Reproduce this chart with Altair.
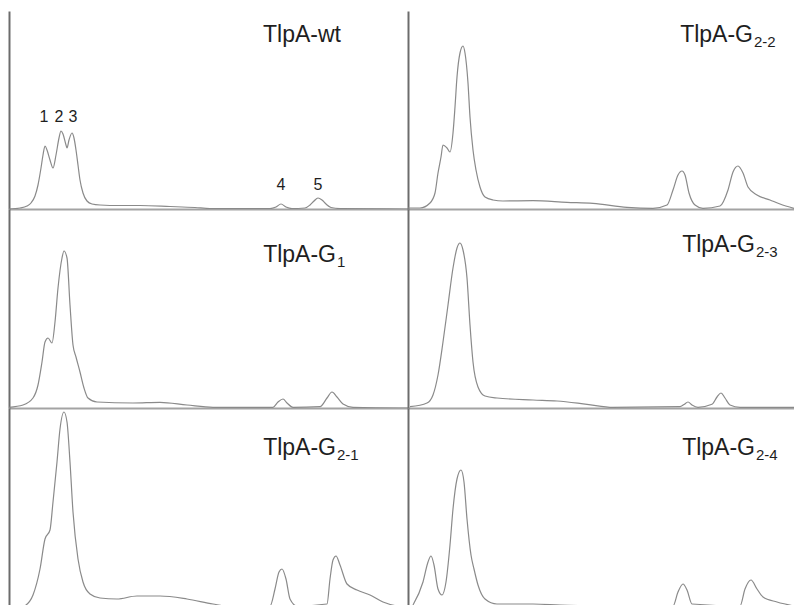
import altair as alt
import pandas as pd

# ---------------- data (retention time in min, absorbance in mAU) ----------------
# TlpA-wt
wt_t = [0, 1.1, 1.8, 2.2, 2.6, 2.9, 3.2, 3.4, 3.6, 3.8, 4.1, 4.4, 4.7, 5.0, 5.2, 5.4, 5.7, 5.8,
        6.0, 6.3, 6.5, 6.7, 6.9, 7.1, 7.4, 7.8, 8.3, 9.1, 11.1, 13.1, 16.1, 18.6, 20.1, 26.1,
        26.7, 27.2, 27.7, 28.3, 29.6, 30.1, 30.5, 30.9, 31.3, 31.7, 32.2, 33.1, 39.9]
wt_a = [0, 0.5, 1.5, 3, 6.5, 12, 20.5, 27, 31.5, 29.5, 24.5, 20.5, 27, 35.5, 39, 37.5, 32, 30.5,
        34.5, 38, 35.5, 29.5, 22, 14.5, 8, 4, 2.5, 2, 1.75, 1.75, 1.25, 0.75, 0.25, 0.25,
        1, 2.5, 1, 0.25, 0.5, 2, 4, 5.5, 4.5, 2.5, 0.75, 0.25, 0]

# TlpA-G2-2
g22_t = [0, 1.2, 2.2, 2.7, 3.0, 3.3, 3.5, 3.9, 4.2, 4.5, 4.7, 4.9, 5.2, 5.5, 5.7, 6.0, 6.2, 6.5,
         6.8, 7.2, 7.7, 8.5, 9.5, 12.5, 15.9, 18.5, 21.9, 24.5, 25.9, 26.5, 27.0, 27.4, 27.7,
         28.1, 28.7, 29.5, 31.2, 32.0, 32.5, 33.0, 33.5, 34.0, 34.9, 36.2, 37.2, 38.6]
g22_a = [0.5, 0.5, 3, 8, 18, 26, 32, 30.5, 28.5, 38, 51, 66, 78, 81.5, 78, 63, 46, 29.5,
         19.5, 11, 6, 4.5, 4, 4.15, 3.35, 2.85, 0.85, 0.35, 2, 9.5, 17, 19, 17,
         8, 2, 0.35, 1.5, 9.5, 18.5, 21.5, 18, 11, 7, 4.5, 2.5, 0.35]

# TlpA-G1
g1_t = [0, 1.4, 2.4, 2.9, 3.3, 3.6, 3.9, 4.3, 4.6, 4.9, 5.3, 5.5, 5.8, 6.1, 6.4, 6.7, 7.1, 7.5,
        7.9, 8.8, 12.4, 15.1, 17.8, 20.4, 26.4, 26.9, 27.4, 27.8, 28.4, 31.1, 31.8, 32.3, 32.8,
        33.4, 34.4, 39.9]
g1_a = [0.35, 1.5, 5, 11.5, 23, 33, 35, 32.5, 43, 60, 75, 78.5, 75, 51.5, 31.5, 25.5, 18, 10,
        5, 3, 2.5, 2.85, 1.5, 0.35, 0.35, 3, 4.5, 2.5, 0.35, 0.65, 5, 8, 5.5,
        2, 0.35, 0]

# TlpA-G2-3
g23_t = [0.2, 1.9, 2.5, 3.0, 3.5, 4.0, 4.5, 4.9, 5.2, 5.5, 5.9, 6.2, 6.5, 7.0, 7.7, 8.9, 12.5,
         14.9, 17.9, 20.5, 27.2, 27.6, 28.0, 28.4, 29.0, 30.4, 30.9, 31.3, 31.7, 32.2, 33.2, 38.6]
g23_a = [0.65, 2.5, 6.5, 16.5, 33, 51.5, 70, 80, 82.5, 79, 65, 41.5, 23, 10.5, 6, 5, 4,
         3.5, 1.85, 0.35, 0.65, 1.75, 3, 1.5, 0.35, 1.85, 5.5, 7.5, 5, 1.5, 0.35, 0.35]

# TlpA-G2-1
g21_t = [1.1, 1.6, 2.4, 3.1, 3.6, 4.1, 4.4, 4.8, 5.1, 5.5, 5.8, 6.1, 6.4, 6.9, 7.4, 8.1, 9.1,
         10.8, 12.8, 15.1, 17.8, 20.4, 21.8, 26.1, 26.6, 27.0, 27.3, 27.7, 28.1, 28.8, 31.8,
         32.1, 32.4, 32.7, 33.1, 33.8, 34.8, 36.1, 37.4, 38.8, 39.9]
g21_a = [0, 1, 6.5, 19.5, 34.5, 39, 53, 73, 89.5, 98, 93, 73, 48, 24.5, 13, 7, 5,
         4.5, 6, 6, 4.5, 2, 1, 1, 9.5, 18, 19.5, 14.5, 4.5, 1, 2,
         14.5, 24, 26, 21.5, 12, 9, 6.5, 3, 1, 0.5]

# TlpA-G2-4
g24_t = [0.5, 1.5, 2.0, 2.3, 2.6, 3.0, 3.4, 3.8, 4.2, 4.5, 4.9, 5.3, 5.6, 5.9, 6.3, 6.6, 7.0,
         7.7, 8.9, 12.5, 15.2, 19.2, 26.5, 27.0, 27.5, 27.9, 28.4, 33.2, 33.7, 34.3, 34.9,
         35.5, 36.9, 38.6]
g24_a = [1.5, 13, 23, 26, 21.5, 9.5, 6.5, 13, 31.5, 49.5, 64.5, 69, 63, 44.5, 26.5, 19.5, 11.5,
         4.5, 2, 2, 1.5, 1, 1, 8, 12, 9, 2, 1, 9.5, 14, 9.5,
         5.5, 3, 1]

# panel labels: main text, subscript, anchor (t, a), subscript baseline a
lab_main = ["TlpA-wt", "TlpA-G", "TlpA-G", "TlpA-G", "TlpA-G", "TlpA-G"]
lab_sub = ["", "2-2", "1", "2-3", "2-1", "2-4"]
lab_t = [25.4, 34.5, 32.7, 34.7, 32.7, 34.7]
lab_a = [83.5, 83.5, 73, 78, 76.5, 76.5]
lab_sub_a = [0, 81, 70.5, 75.5, 74, 74]

# peak numbers in TlpA-wt
pk_text = ["1", "2", "3", "4", "5"]
pk_t = [3.5, 5.0, 6.4, 27.2, 30.9]
pk_a = [43.5, 43.5, 43.5, 9.5, 9.5]

LINE = "#8a8a8a"
FONT = "Liberation Sans"
TXT = "#1e1e1e"


def panel(i, t, a, xmax, w, h):
    ymax = h / 2
    xs = alt.Scale(domain=[0, xmax], nice=False, zero=False)
    ys = alt.Scale(domain=[0, ymax], nice=False, zero=False)
    xax = alt.Axis(title=None, labels=False, ticks=False, grid=False,
                   domainColor="#a3a3a3", domainWidth=2)
    yax = alt.Axis(title=None, labels=False, ticks=False, grid=False,
                   domainColor="#6c6c6c", domainWidth=2)
    df = pd.DataFrame({"t": t, "a": a})
    line = alt.Chart(df).mark_line(color=LINE, strokeWidth=1.2,
                                   interpolate="monotone", clip=True).encode(
        x=alt.X("t:Q", scale=xs, axis=xax),
        y=alt.Y("a:Q", scale=ys, axis=yax),
    )
    layers = [line]
    has_sub = lab_sub[i] != ""
    mdf = pd.DataFrame({"t": [lab_t[i]], "a": [lab_a[i]], "txt": [lab_main[i]]})
    layers.append(
        alt.Chart(mdf).mark_text(font=FONT, fontSize=23, color=TXT,
                                 align="right" if has_sub else "left",
                                 baseline="alphabetic").encode(
            x=alt.X("t:Q", scale=xs, axis=xax),
            y=alt.Y("a:Q", scale=ys, axis=yax),
            text="txt:N")
    )
    if has_sub:
        sdf = pd.DataFrame({"t": [lab_t[i]], "a": [lab_sub_a[i]], "txt": [lab_sub[i]]})
        layers.append(
            alt.Chart(sdf).mark_text(font=FONT, fontSize=15, color=TXT, align="left",
                                     baseline="alphabetic", dx=1).encode(
                x=alt.X("t:Q", scale=xs, axis=xax),
                y=alt.Y("a:Q", scale=ys, axis=yax),
                text="txt:N")
        )
    if i == 0:
        pdf = pd.DataFrame({"t": pk_t, "a": pk_a, "txt": pk_text})
        layers.append(
            alt.Chart(pdf).mark_text(font=FONT, fontSize=16, color=TXT, align="center",
                                     baseline="alphabetic").encode(
                x=alt.X("t:Q", scale=xs, axis=xax),
                y=alt.Y("a:Q", scale=ys, axis=yax),
                text="txt:N")
        )
    return alt.layer(*layers).properties(width=w, height=h)


WL, WR = 399, 386
panels = [
    panel(0, wt_t, wt_a, 39.9, WL, 198), panel(1, g22_t, g22_a, 38.6, WR, 198),
    panel(2, g1_t, g1_a, 39.9, WL, 199), panel(3, g23_t, g23_a, 38.6, WR, 199),
    panel(4, g21_t, g21_a, 39.9, WL, 200), panel(5, g24_t, g24_a, 38.6, WR, 200),
]

chart = alt.concat(*panels, columns=2, spacing=0, bounds="flush", align="each").properties(
    padding={"left": 9, "top": 11, "right": 0, "bottom": 0},
    background="white",
).configure_view(stroke=None).configure_concat(spacing=0)

chart.save("out.html", embed_options={"renderer": "svg", "actions": False})
